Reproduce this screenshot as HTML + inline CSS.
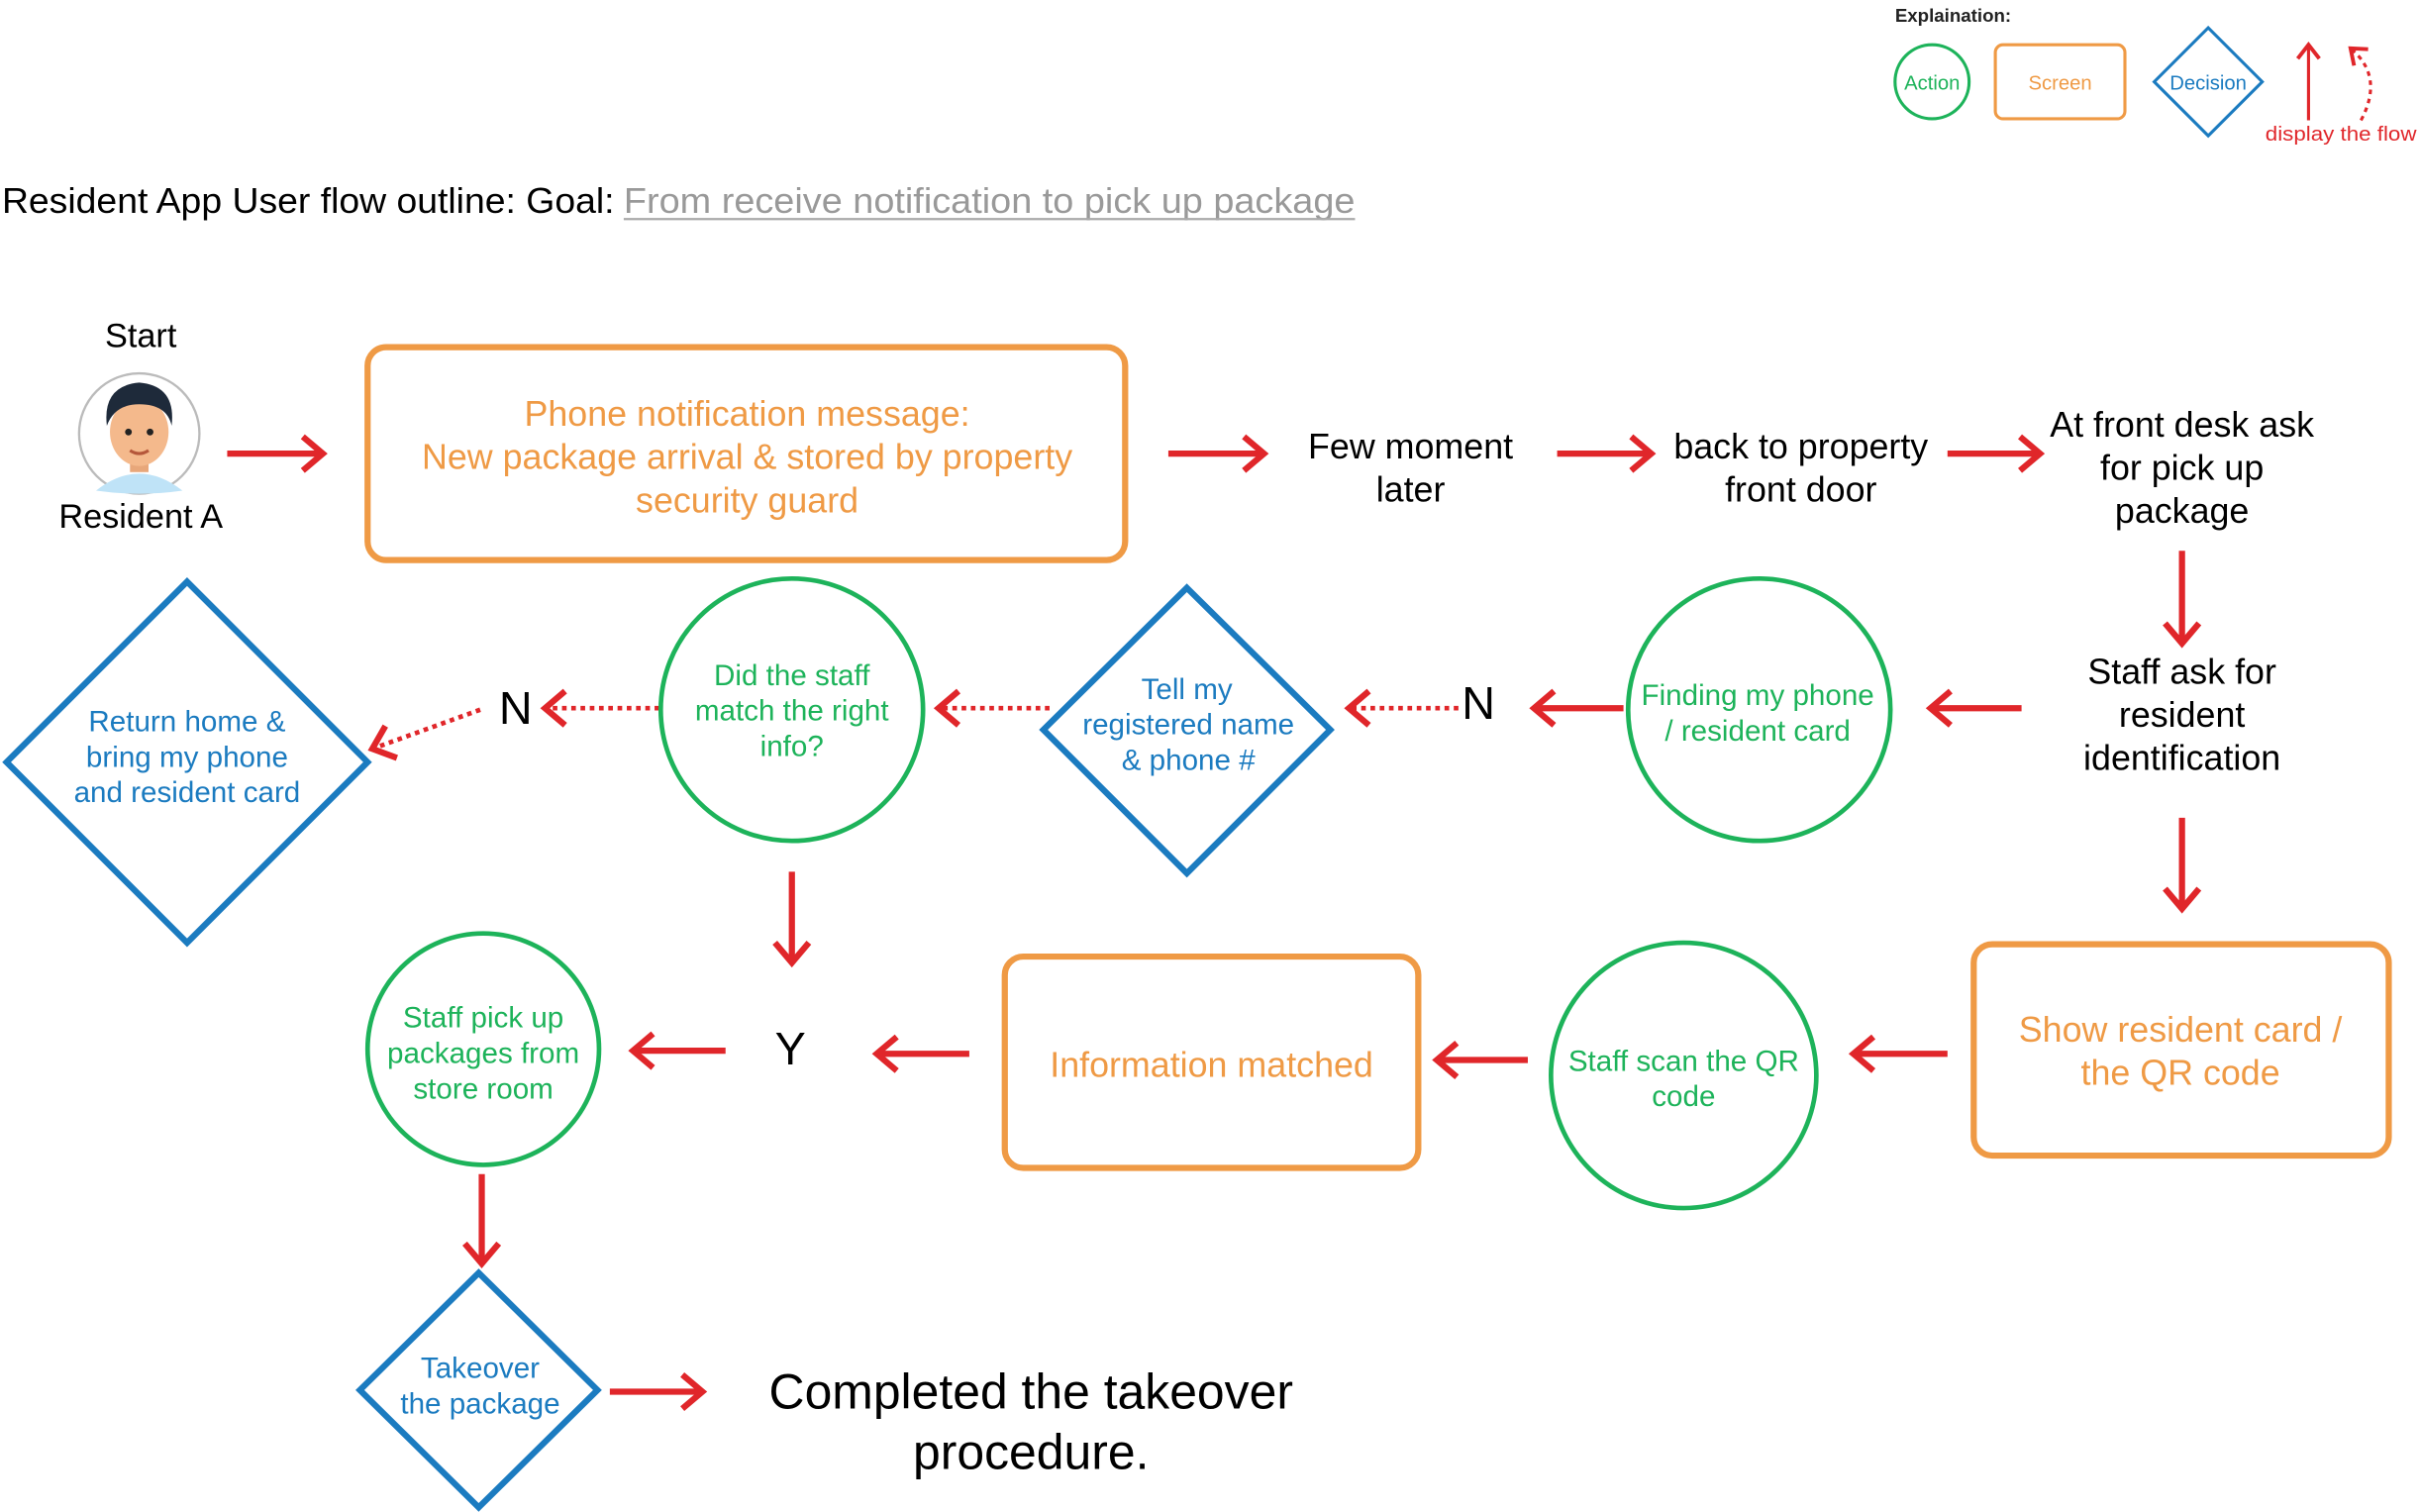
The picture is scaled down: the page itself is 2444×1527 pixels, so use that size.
<!DOCTYPE html>
<html><head><meta charset="utf-8"><style>html,body{margin:0;padding:0;background:#fff;}svg{display:block}</style></head>
<body>
<svg width="2444" height="1527" viewBox="0 0 1568 980" xmlns="http://www.w3.org/2000/svg" font-family="Liberation Sans, sans-serif">
<defs>
<marker id="a" markerUnits="userSpaceOnUse" markerWidth="30" markerHeight="30" refX="14" refY="12" orient="auto" viewBox="0 0 30 24">
<polyline points="2,1 15,12 2,23" fill="none" stroke="#E0262A" stroke-width="4"/></marker>
<marker id="s" markerUnits="userSpaceOnUse" markerWidth="20" markerHeight="20" refX="9" refY="8" orient="auto" viewBox="0 0 20 16">
<polyline points="1,1 10,8 1,15" fill="none" stroke="#E0262A" stroke-width="2.5"/></marker>
</defs>
<g fill="none" stroke="#E0262A" stroke-width="4" marker-end="url(#a)">
<line x1="147" y1="294" x2="208" y2="294"/>
<line x1="757" y1="294" x2="818" y2="294"/>
<line x1="1009" y1="294" x2="1069" y2="294"/>
<line x1="1262" y1="294" x2="1321" y2="294"/>
<line x1="1414" y1="357" x2="1414" y2="416"/>
<line x1="1414" y1="530" x2="1414" y2="588"/>
<line x1="1262" y1="683" x2="1202" y2="683"/>
<line x1="990" y1="687" x2="932" y2="687"/>
<line x1="628" y1="683" x2="569" y2="683"/>
<line x1="470" y1="681" x2="411" y2="681"/>
<line x1="312" y1="761" x2="312" y2="818"/>
<line x1="395" y1="902" x2="454" y2="902"/>
<line x1="1310" y1="459" x2="1252" y2="459"/>
<line x1="1052" y1="459" x2="995" y2="459"/>
<line x1="513" y1="565" x2="513" y2="623"/>
</g>
<g fill="none" stroke="#E0262A" stroke-width="3" stroke-dasharray="3 3" marker-end="url(#a)">
<line x1="945" y1="459" x2="875" y2="459"/>
<line x1="680" y1="459" x2="609" y2="459"/>
<line x1="427" y1="459" x2="354" y2="459"/>
<line x1="311" y1="460" x2="242" y2="485"/>
</g>
<!-- legend -->
<text x="1228" y="14" font-size="12" font-weight="bold" fill="#222">Explaination:</text>
<circle cx="1252" cy="53" r="24" fill="none" stroke="#1DB35A" stroke-width="2"/>
<text x="1252" y="58" font-size="13" fill="#1DB35A" text-anchor="middle">Action</text>
<rect x="1293" y="29" width="84" height="48" rx="5" fill="none" stroke="#EF9A45" stroke-width="2"/>
<text x="1335" y="58" font-size="13" fill="#EF9A45" text-anchor="middle">Screen</text>
<polygon points="1431,18 1466,53 1431,88 1396,53" fill="none" stroke="#1B7BC0" stroke-width="2"/>
<text x="1431" y="58" font-size="13" fill="#1B7BC0" text-anchor="middle">Decision</text>
<line x1="1496" y1="78" x2="1496" y2="30" stroke="#E0262A" stroke-width="2" marker-end="url(#s)"/>
<path d="M1530,78 Q1545,50 1524,32" fill="none" stroke="#E0262A" stroke-width="2" stroke-dasharray="3 3" marker-end="url(#s)"/>
<text x="1468" y="91" font-size="13" fill="#E0262A" textLength="98" lengthAdjust="spacingAndGlyphs">display the flow</text>
<!-- title -->
<text x="1" y="138" font-size="23" fill="#000" textLength="397" lengthAdjust="spacingAndGlyphs">Resident App User flow outline: Goal:</text>
<text x="404" y="138" font-size="23" fill="#999" textLength="474" lengthAdjust="spacingAndGlyphs">From receive notification to pick up package</text>
<line x1="404" y1="142" x2="878" y2="142" stroke="#aaa" stroke-width="1.5"/>
<!-- start -->
<text x="91" y="225" font-size="22" fill="#000" text-anchor="middle">Start</text>
<circle cx="90" cy="281" r="39" fill="#fff" stroke="#bbb" stroke-width="1.5"/>
<path d="M62,318 Q90,296 118,318 Q104,320 90,320 Q76,320 62,318Z" fill="#BFE3F7"/>
<rect x="84" y="296" width="12" height="10" fill="#E8A77A"/>
<ellipse cx="90" cy="280" rx="19" ry="22" fill="#F4B98C"/>
<path d="M69,276 Q66,250 90,248 Q114,250 111,276 Q108,262 90,262 Q74,262 69,276Z" fill="#1E2A3A"/>
<circle cx="83" cy="280" r="2.2" fill="#222"/><circle cx="97" cy="280" r="2.2" fill="#222"/>
<path d="M84,292 Q90,296 96,292" stroke="#B5573A" stroke-width="2" fill="none"/>
<text x="91" y="342" font-size="22" fill="#000" text-anchor="middle">Resident A</text>
<!-- screens -->
<g fill="none" stroke="#EF9A45" stroke-width="4">
<rect x="238" y="225" width="491" height="138" rx="12"/>
<rect x="1279" y="612" width="269" height="137" rx="12"/>
<rect x="651" y="620" width="268" height="137" rx="12"/>
</g>
<g fill="#EF9A45" font-size="23" text-anchor="middle">
<text x="484" y="276">Phone notification message:</text>
<text x="484" y="304">New package arrival &amp; stored by property</text>
<text x="484" y="332">security guard</text>
<text x="1413" y="675">Show resident card /</text>
<text x="1413" y="703">the QR code</text>
<text x="785" y="698">Information matched</text>
</g>
<!-- black texts -->
<g fill="#000" font-size="23" text-anchor="middle">
<text x="914" y="297">Few moment</text><text x="914" y="325">later</text>
<text x="1167" y="297">back to property</text><text x="1167" y="325">front door</text>
<text x="1414" y="283">At front desk ask</text><text x="1414" y="311">for pick up</text><text x="1414" y="339">package</text>
<text x="1414" y="443">Staff ask for</text><text x="1414" y="471">resident</text><text x="1414" y="499">identification</text>
<text x="958" y="466" font-size="30">N</text>
<text x="334" y="469" font-size="30">N</text>
<text x="512" y="690" font-size="30">Y</text>
<text x="668" y="913" font-size="32">Completed the takeover</text>
<text x="668" y="952" font-size="32">procedure.</text>
</g>
<!-- actions -->
<g fill="none" stroke="#1DB35A" stroke-width="3">
<circle cx="1091" cy="697" r="86"/>
<circle cx="313" cy="680" r="75"/>
<circle cx="1140" cy="460" r="85"/>
<circle cx="513" cy="460" r="85"/>
</g>
<g fill="#1DB35A" font-size="19" text-anchor="middle">
<text x="1091" y="694">Staff scan the QR</text><text x="1091" y="717">code</text>
<text x="313" y="666">Staff pick up</text><text x="313" y="689">packages from</text><text x="313" y="712">store room</text>
<text x="1139" y="457">Finding my phone</text><text x="1139" y="480">/ resident card</text>
<text x="513" y="444">Did the staff</text><text x="513" y="467">match the right</text><text x="513" y="490">info?</text>
</g>
<!-- decisions -->
<g fill="none" stroke="#1B7BC0" stroke-width="4">
<polygon points="310,825 387,901 310,977 233,901"/>
<polygon points="769,381 862,473 769,566 676,473"/>
<polygon points="121,377 238,494 121,611 4,494"/>
</g>
<g fill="#1B7BC0" font-size="19" text-anchor="middle">
<text x="311" y="893">Takeover</text><text x="311" y="916">the package</text>
<text x="769" y="453">Tell my</text><text x="770" y="476">registered name</text><text x="770" y="499">&amp; phone #</text>
<text x="121" y="474">Return home &amp;</text><text x="121" y="497">bring my phone</text><text x="121" y="520">and resident card</text>
</g>
</svg>
</body></html>
